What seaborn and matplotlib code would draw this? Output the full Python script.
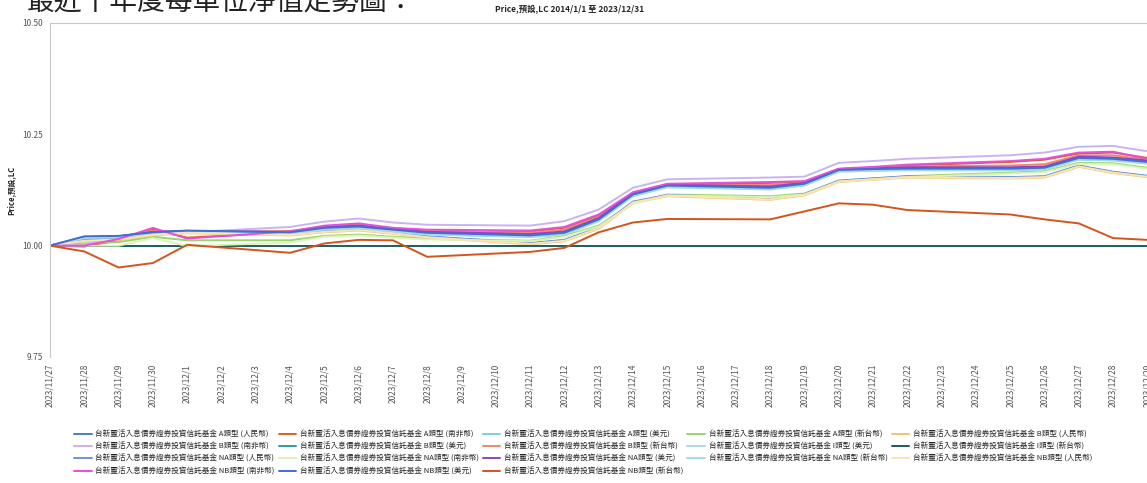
import matplotlib
matplotlib.use("Agg")
import matplotlib.pyplot as plt
import matplotlib.dates as mdates
import matplotlib.ticker as mticker
import pandas as pd
import seaborn as sns

sns.set_style("white")
plt.rcParams["font.family"] = ["Noto Sans CJK TC", "DejaVu Sans"]

# trading days shown in the chart
dates = ["2023-11-27", "2023-11-28", "2023-11-29", "2023-11-30", "2023-12-01",
         "2023-12-04", "2023-12-05", "2023-12-06", "2023-12-07", "2023-12-08",
         "2023-12-11", "2023-12-12", "2023-12-13", "2023-12-14", "2023-12-15",
         "2023-12-18", "2023-12-19", "2023-12-20", "2023-12-21", "2023-12-22",
         "2023-12-25", "2023-12-26", "2023-12-27", "2023-12-28", "2023-12-29"]

fund = "台新靈活入息債券證券投資信託基金"
classes = ["A類型 (人民幣)", "A類型 (南非幣)", "A類型 (美元)", "A類型 (新台幣)", "B類型 (人民幣)",
           "B類型 (南非幣)", "B類型 (美元)", "B類型 (新台幣)", "I類型 (美元)", "I類型 (新台幣)",
           "NA類型 (人民幣)", "NA類型 (南非幣)", "NA類型 (美元)", "NA類型 (新台幣)", "NB類型 (人民幣)",
           "NB類型 (南非幣)", "NB類型 (美元)", "NB類型 (新台幣)"]

colors = ["#4a7bd0", "#d8602a", "#7fd0d8", "#9bd36b", "#f5c26b",
          "#c9b3f2", "#2e9aa6", "#f08a65", "#a9d8ea", "#1f5c5e",
          "#6b93e0", "#d6f5b8", "#8e44c8", "#a6d9e8", "#fbe4b0",
          "#e64fd8", "#3d6fd6", "#d4541c"]

a_cny = [10.000, 10.012, 10.015, 10.025, 10.030, 10.025, 10.032, 10.036, 10.029, 10.020,
         10.005, 10.012, 10.040, 10.098, 10.113, 10.105, 10.115, 10.145, 10.150, 10.155,
         10.153, 10.155, 10.179, 10.165, 10.156]
a_zar = [10.000, 9.998, 10.012, 10.036, 10.018, 10.030, 10.043, 10.048, 10.039, 10.034,
         10.032, 10.040, 10.068, 10.118, 10.137, 10.141, 10.143, 10.171, 10.175, 10.180,
         10.188, 10.193, 10.207, 10.209, 10.197]
a_usd = [10.000, 10.018, 10.020, 10.028, 10.031, 10.027, 10.037, 10.040, 10.033, 10.026,
         10.020, 10.026, 10.056, 10.112, 10.132, 10.127, 10.136, 10.167, 10.169, 10.170,
         10.170, 10.172, 10.194, 10.192, 10.185]
a_twd = [10.000, 10.005, 10.008, 10.020, 10.012, 10.012, 10.022, 10.025, 10.020, 10.016,
         10.011, 10.022, 10.045, 10.096, 10.115, 10.111, 10.117, 10.146, 10.151, 10.156,
         10.164, 10.167, 10.186, 10.185, 10.175]
b_cny = [10.000, 10.010, 10.013, 10.023, 10.028, 10.023, 10.030, 10.034, 10.027, 10.018,
         10.003, 10.010, 10.038, 10.096, 10.111, 10.103, 10.113, 10.143, 10.148, 10.153,
         10.151, 10.153, 10.177, 10.163, 10.154]
b_zar = [10.000, 10.003, 10.018, 10.032, 10.030, 10.042, 10.054, 10.061, 10.052, 10.047,
         10.045, 10.055, 10.081, 10.130, 10.149, 10.153, 10.155, 10.186, 10.190, 10.195,
         10.203, 10.209, 10.222, 10.224, 10.212]
b_usd = [10.000, 10.019, 10.021, 10.029, 10.032, 10.028, 10.038, 10.041, 10.034, 10.027,
         10.021, 10.027, 10.057, 10.113, 10.133, 10.128, 10.137, 10.168, 10.170, 10.171,
         10.171, 10.173, 10.195, 10.193, 10.186]
b_twd = [10.000, 10.015, 10.020, 10.033, 10.030, 10.033, 10.043, 10.047, 10.039, 10.033,
         10.029, 10.036, 10.064, 10.119, 10.137, 10.136, 10.141, 10.172, 10.175, 10.178,
         10.180, 10.183, 10.203, 10.203, 10.193]
i_usd = [10.000, 10.020, 10.021, 10.029, 10.033, 10.029, 10.039, 10.042, 10.035, 10.028,
         10.022, 10.028, 10.058, 10.114, 10.134, 10.129, 10.138, 10.169, 10.171, 10.172,
         10.172, 10.174, 10.196, 10.194, 10.187]
i_twd = [10.000, 10.000, 10.000, 10.000, 10.000, 10.000, 10.000, 10.000, 10.000, 10.000,
         10.000, 10.000, 10.000, 10.000, 10.000, 10.000, 10.000, 10.000, 10.000, 10.000,
         10.000, 10.000, 10.000, 10.000, 10.000]
na_cny = [10.000, 10.013, 10.016, 10.026, 10.031, 10.026, 10.033, 10.037, 10.030, 10.021,
          10.006, 10.013, 10.041, 10.099, 10.114, 10.106, 10.116, 10.146, 10.151, 10.156,
          10.154, 10.156, 10.180, 10.166, 10.157]
na_zar = [10.000, 10.000, 10.000, 10.017, 9.999, 10.007, 10.020, 10.023, 10.018, 10.014,
          10.010, 10.020, 10.043, 10.094, 10.113, 10.109, 10.115, 10.144, 10.149, 10.154,
          10.162, 10.165, 10.184, 10.183, 10.173]
na_usd = [10.000, 10.019, 10.021, 10.031, 10.033, 10.031, 10.042, 10.045, 10.038, 10.031,
          10.026, 10.032, 10.062, 10.119, 10.137, 10.133, 10.141, 10.172, 10.174, 10.176,
          10.176, 10.178, 10.200, 10.198, 10.191]
na_twd = [10.000, 10.017, 10.019, 10.027, 10.030, 10.026, 10.036, 10.039, 10.032, 10.025,
          10.019, 10.025, 10.055, 10.111, 10.131, 10.126, 10.135, 10.166, 10.168, 10.169,
          10.169, 10.171, 10.193, 10.191, 10.184]
nb_cny = [10.000, 10.011, 10.014, 10.024, 10.029, 10.024, 10.031, 10.035, 10.028, 10.019,
          10.004, 10.011, 10.039, 10.097, 10.112, 10.104, 10.114, 10.144, 10.149, 10.154,
          10.152, 10.154, 10.178, 10.164, 10.155]
nb_zar = [10.000, 10.000, 10.015, 10.040, 10.016, 10.032, 10.045, 10.050, 10.040, 10.036,
          10.034, 10.042, 10.070, 10.120, 10.139, 10.143, 10.145, 10.173, 10.177, 10.182,
          10.190, 10.195, 10.209, 10.211, 10.195]
nb_usd = [10.000, 10.021, 10.022, 10.030, 10.034, 10.030, 10.040, 10.043, 10.036, 10.029,
          10.023, 10.029, 10.059, 10.115, 10.135, 10.130, 10.139, 10.170, 10.172, 10.173,
          10.173, 10.175, 10.197, 10.195, 10.188]
nb_twd = [10.000, 9.987, 9.951, 9.961, 10.002, 9.984, 10.005, 10.013, 10.012, 9.975,
          9.986, 9.995, 10.030, 10.052, 10.060, 10.059, 10.077, 10.095, 10.092, 10.080,
          10.070, 10.059, 10.050, 10.017, 10.013]

series = [a_cny, a_zar, a_usd, a_twd, b_cny, b_zar, b_usd, b_twd, i_usd, i_twd,
          na_cny, na_zar, na_usd, na_twd, nb_cny, nb_zar, nb_usd, nb_twd]

names = [f"{fund} {c}" for c in classes]
rows = []
for name, vals in zip(names, series):
    for d, v in zip(dates, vals):
        rows.append({"date": pd.Timestamp(d), "price": v, "fund": name})
df = pd.DataFrame(rows)

fig = plt.figure(figsize=(11.47, 4.83), dpi=100)
ax = fig.add_axes([50 / 1147, 1 - 357 / 483, 1166 / 1147, 334 / 483])

sns.lineplot(data=df, x="date", y="price", hue="fund", hue_order=names,
             palette=dict(zip(names, colors)), linewidth=1.4, ax=ax, legend=True)

ax.set_xlim(pd.Timestamp("2023-11-27"), pd.Timestamp("2023-12-31"))
ax.set_ylim(9.75, 10.50)
ax.set_yticks([9.75, 10.00, 10.25, 10.50])
ax.yaxis.set_major_formatter(mticker.FormatStrFormatter("%.2f"))
ax.xaxis.set_major_locator(mdates.DayLocator())
ax.xaxis.set_major_formatter(mticker.FuncFormatter(
    lambda x, pos: f"{mdates.num2date(x).year}/{mdates.num2date(x).month}/{mdates.num2date(x).day}"))
ax.tick_params(axis="x", labelrotation=90, labelsize=6, labelcolor="#555555",
               length=3, color="#c8c8c8", pad=2)
ax.tick_params(axis="y", labelsize=6, labelcolor="#555555", length=3,
               color="#c8c8c8", pad=2)
ax.set_xlabel("")
ax.set_ylabel("Price,預設,LC", fontsize=5.5, fontweight="bold", labelpad=5)
for side in ["left", "top"]:
    ax.spines[side].set_color("#c8c8c8")
    ax.spines[side].set_linewidth(0.8)
for side in ["right", "bottom"]:
    ax.spines[side].set_visible(False)

handles, labels = ax.get_legend_handles_labels()
ax.get_legend().remove()
order = [0, 5, 10, 15, 1, 6, 11, 16, 2, 7, 12, 17, 3, 8, 13, 4, 9, 14]
fig.legend([handles[i] for i in order], [labels[i] for i in order], ncol=5,
           loc="upper left", bbox_to_anchor=(74 / 1147, 1 - 430 / 483),
           frameon=False, fontsize=5.5, handlelength=2.3, handletextpad=0.5,
           columnspacing=0.5, labelspacing=0.55, borderpad=0, borderaxespad=0)

fig.text(570 / 1147, 1 - 10 / 483, "Price,預設,LC 2014/1/1 至 2023/12/31",
         ha="center", va="center", fontsize=6, fontweight="bold")
fig.text(27 / 1147, 1 - 3 / 483, "最近十年度每單位淨值走勢圖：",
         ha="left", va="center", fontsize=20, color="#222222")

fig.savefig("out.png", dpi=100)
